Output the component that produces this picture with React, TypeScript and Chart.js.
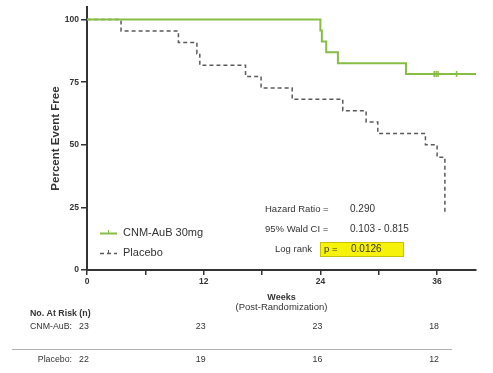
import React, { useEffect, useRef } from "react";
import { Chart, registerables } from "chart.js";

Chart.register(...registerables);

// ---- Data ----
const cnmLabel = "CNM-AuB 30mg";
const placeboLabel = "Placebo";
const cnmTimes = [0, 24.0, 24.15, 24.6, 25.8, 32.8, 40];
const cnmSurv = [100, 95.65, 91.3, 87.0, 82.6, 78.3, 78.3];
const cnmCensorTimes = [35.7, 35.9, 36.1, 38.0];
const cnmCensorSurv = [78.3, 78.3, 78.3, 78.3];
const placeboTimes = [0, 3.5, 9.4, 11.3, 11.6, 16.3, 17.9, 21.1, 26.3, 28.7, 29.9, 34.8, 36.0, 36.8];
const placeboSurv = [100, 95.45, 90.9, 86.4, 81.8, 77.3, 72.7, 68.2, 63.6, 59.1, 54.5, 50.0, 45.0, 23.0];
const yTicks = [0, 25, 50, 75, 100];
const xTicks = [0, 6, 12, 18, 24, 30, 36];
const xLabelled = [0, 12, 24, 36];
const atRiskWeeks = [0, 12, 24, 36];
const atRiskRowLabels = ["CNM-AuB:", "Placebo:"];
const cnmAtRisk = [23, 23, 23, 18];
const placeboAtRisk = [22, 19, 16, 12];
const statLabels = ["Hazard Ratio =", "95% Wald CI ="];
const statValues = ["0.290", "0.103 - 0.815"];
const logRankLabel = "Log rank";
const pLabel = "p =";
const pValue = "0.0126";
const xTitle = "Weeks";
const xSubtitle = "(Post-Randomization)";
const yTitle = "Percent Event Free";
const atRiskTitle = "No. At Risk (n)";

const GREEN = "#86bd45";
const GRAY = "#5a5a5a";
const TEXT = "#333333";
const FONT = "'Liberation Sans', Arial, sans-serif";

const extrasPlugin = {
  id: "extras",
  afterDraw(chart: any) {
    const ctx = chart.ctx;
    const xs = chart.scales.x;
    const ca = chart.chartArea;
    ctx.save();
    ctx.fillStyle = TEXT;
    ctx.textBaseline = "middle";

    // x title
    const cx = (ca.left + ca.right) / 2;
    ctx.textAlign = "center";
    ctx.font = `bold 9px ${FONT}`;
    ctx.fillText(xTitle, cx, 298);
    ctx.font = `9.5px ${FONT}`;
    ctx.fillText(xSubtitle, cx, 307);

    // at risk table
    ctx.textAlign = "left";
    ctx.font = `bold 8.8px ${FONT}`;
    ctx.fillText(atRiskTitle, 30, 314);
    ctx.font = `8.8px ${FONT}`;
    ctx.textAlign = "right";
    ctx.fillText(atRiskRowLabels[0], 72, 327);
    ctx.fillText(atRiskRowLabels[1], 72, 360);
    ctx.textAlign = "center";
    atRiskWeeks.forEach((w, i) => {
      const px = xs.getPixelForValue(w) - 3;
      ctx.fillText(String(cnmAtRisk[i]), px, 327);
      ctx.fillText(String(placeboAtRisk[i]), px, 360);
    });
    ctx.strokeStyle = "#b0b0b0";
    ctx.lineWidth = 1;
    ctx.beginPath();
    ctx.moveTo(12, 349.5);
    ctx.lineTo(452, 349.5);
    ctx.stroke();

    // legend
    const legendRows = [
      { label: cnmLabel, color: GREEN, dash: [] as number[], y: 233, w: 2 },
      { label: placeboLabel, color: GRAY, dash: [4, 3], y: 253, w: 1.5 },
    ];
    legendRows.forEach((r) => {
      ctx.strokeStyle = r.color;
      ctx.lineWidth = r.w;
      ctx.setLineDash(r.dash);
      ctx.beginPath();
      ctx.moveTo(100, r.y + 0.5);
      ctx.lineTo(117, r.y + 0.5);
      ctx.stroke();
      ctx.setLineDash([]);
      ctx.lineWidth = 1;
      ctx.beginPath();
      ctx.moveTo(108.5, r.y - 3);
      ctx.lineTo(108.5, r.y + 0.5);
      ctx.stroke();
      ctx.fillStyle = TEXT;
      ctx.textAlign = "left";
      ctx.font = `11px ${FONT}`;
      ctx.fillText(r.label, 123, r.y);
    });

    // stats
    ctx.textAlign = "left";
    ctx.font = `9.5px ${FONT}`;
    ctx.fillText(statLabels[0], 265, 209);
    ctx.fillText(statLabels[1], 265, 229);
    ctx.font = `10px ${FONT}`;
    ctx.fillText(statValues[0], 350, 209);
    ctx.fillText(statValues[1], 350, 229);
    ctx.fillStyle = "#f7f20a";
    ctx.fillRect(320, 242, 83, 14);
    ctx.strokeStyle = "#c9c200";
    ctx.lineWidth = 1;
    ctx.strokeRect(320.5, 242.5, 83, 14);
    ctx.fillStyle = TEXT;
    ctx.font = `9.5px ${FONT}`;
    ctx.fillText(logRankLabel, 275, 249);
    ctx.fillText(pLabel, 324, 249);
    ctx.font = `10px ${FONT}`;
    ctx.fillText(pValue, 351, 249);
    ctx.restore();
  },
};

export default function App() {
  const ref = useRef<HTMLCanvasElement>(null);
  useEffect(() => {
    document.body.style.margin = "0";
    const chart = new Chart(ref.current!, {
      type: "line",
      data: {
        datasets: [
          {
            label: cnmLabel,
            data: cnmTimes.map((t, i) => ({ x: t, y: cnmSurv[i] })),
            borderColor: GREEN,
            borderWidth: 2,
            stepped: "before",
            pointRadius: 0,
            fill: false,
            order: 0,
          },
          {
            label: placeboLabel,
            data: placeboTimes.map((t, i) => ({ x: t, y: placeboSurv[i] })),
            borderColor: GRAY,
            borderWidth: 1.5,
            borderDash: [4, 3],
            stepped: "before",
            pointRadius: 0,
            fill: false,
            order: 2,
          },
          {
            label: "censored",
            data: cnmCensorTimes.map((t, i) => ({ x: t, y: cnmCensorSurv[i] })),
            showLine: false,
            pointStyle: "line",
            rotation: 90,
            pointRadius: 3,
            borderColor: GREEN,
            borderWidth: 1.5,
            order: 1,
          },
        ],
      },
      options: {
        responsive: false,
        animation: false,
        layout: { padding: { left: 43, top: 7, right: 17, bottom: 0 } },
        plugins: { legend: { display: false }, tooltip: { enabled: false } },
        scales: {
          x: {
            type: "linear",
            min: 0,
            max: 40,
            afterBuildTicks: (s: any) => {
              s.ticks = xTicks.map((v) => ({ value: v }));
            },
            afterFit: (s: any) => {
              s.height = 103;
            },
            ticks: {
              autoSkip: false,
              maxRotation: 0,
              padding: 2,
              color: TEXT,
              font: { family: FONT, size: 8.5, weight: "bold" },
              callback: (v: any) => (xLabelled.includes(Number(v)) ? String(v) : ""),
            },
            grid: { drawOnChartArea: false, drawTicks: true, tickLength: 5, color: "#333", lineWidth: 1.5 },
            border: { color: "#333", width: 2 },
          },
          y: {
            min: 0,
            max: 105,
            afterBuildTicks: (s: any) => {
              s.ticks = yTicks.map((v) => ({ value: v }));
            },
            afterFit: (s: any) => {
              s.width = 44;
            },
            title: {
              display: true,
              text: yTitle,
              color: TEXT,
              font: { family: FONT, size: 11.5, weight: "bold" },
              padding: { top: 6, bottom: 0 },
            },
            ticks: {
              padding: 2,
              color: TEXT,
              font: { family: FONT, size: 8.5, weight: "bold" },
            },
            grid: { drawOnChartArea: false, drawTicks: true, tickLength: 6, color: "#333", lineWidth: 1.5 },
            border: { color: "#333", width: 2 },
          },
        },
      },
      plugins: [extrasPlugin],
    });
    return () => chart.destroy();
  }, []);
  return (
    <div style={{ position: "fixed", left: 0, top: 0, background: "#fff" }}>
      <canvas ref={ref} width={493} height={373} />
    </div>
  );
}
